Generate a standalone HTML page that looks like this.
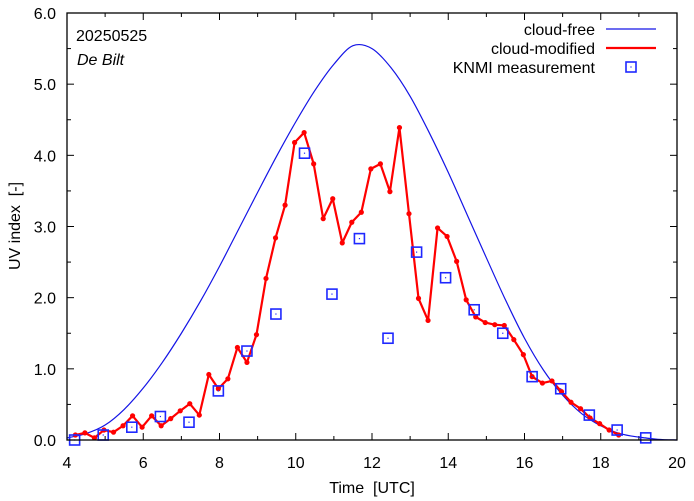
<!DOCTYPE html>
<html><head><meta charset="utf-8"><style>
body{margin:0;background:#fff}
svg{display:block;font-family:"Liberation Sans",sans-serif}
text{white-space:pre}
</style></head><body>
<svg id="chart" width="694" height="501" xmlns="http://www.w3.org/2000/svg"></svg>
<script>
const redT=[4.22,4.47,4.72,4.97,5.22,5.47,5.72,5.97,6.22,6.47,6.72,6.97,7.22,7.47,7.72,7.97,8.22,8.47,8.72,8.97,9.22,9.47,9.72,9.97,10.22,10.47,10.72,10.97,11.22,11.47,11.72,11.97,12.22,12.47,12.72,12.97,13.22,13.47,13.72,13.97,14.22,14.47,14.72,14.97,15.22,15.47,15.72,15.97,16.2,16.47,16.72,16.97,17.22,17.47,17.72,17.97,18.22,18.47];
const redV=[0.07,0.10,0.03,0.14,0.11,0.2,0.34,0.18,0.34,0.2,0.3,0.41,0.51,0.35,0.92,0.72,0.86,1.3,1.09,1.48,2.27,2.84,3.3,4.18,4.32,3.88,3.11,3.39,2.77,3.06,3.2,3.81,3.88,3.49,4.39,3.18,1.99,1.68,2.98,2.86,2.51,1.97,1.73,1.65,1.62,1.61,1.41,1.2,0.89,0.80,0.83,0.68,0.53,0.44,0.31,0.23,0.14,0.07];
const measT=[4.2,4.95,5.7,6.45,7.2,7.97,8.72,9.48,10.23,10.95,11.67,12.42,13.17,13.93,14.68,15.43,16.2,16.95,17.7,18.43,19.18];
const measV=[0.0,0.07,0.18,0.33,0.25,0.69,1.25,1.77,4.03,2.05,2.83,1.43,2.64,2.28,1.83,1.50,0.89,0.72,0.35,0.14,0.03];
const clearT=[4,4.5,5,5.5,6,6.5,7,7.5,8,8.5,9,9.5,10,10.5,11,11.5,12,12.5,13,13.5,14,14.5,15,15.5,16,16.5,17,17.5,18,18.5,19,19.5,20];
const clearV=[0.03,0.09,0.21,0.43,0.73,1.09,1.5,1.95,2.44,2.96,3.48,3.99,4.47,4.91,5.28,5.54,5.5,5.23,4.83,4.32,3.76,3.16,2.56,1.97,1.43,0.98,0.63,0.37,0.2,0.09,0.04,0.01,0.0];
const xTicks=[4,6,8,10,12,14,16,18,20];
const yTicks=[0,1,2,3,4,5,6];
const yLabels=["0.0","1.0","2.0","3.0","4.0","5.0","6.0"];

const L=67,R=677,T=13,B=440;
const X=t=>L+(t-4)/16*(R-L);
const Y=v=>B-v/6*(B-T);
const NS="http://www.w3.org/2000/svg";
const svg=document.getElementById('chart');
function mk(tag,attrs,parent){const e=document.createElementNS(NS,tag);for(const k in attrs)e.setAttribute(k,attrs[k]);(parent||svg).appendChild(e);return e;}

const axes=mk('g',{});


for(let t=4;t<=20;t+=1){const len=(t%2===0)?7:4;
 mk('line',{x1:X(t),x2:X(t),y1:B,y2:B-len,stroke:'#000','stroke-width':1},axes);
 mk('line',{x1:X(t),x2:X(t),y1:T,y2:T+len,stroke:'#000','stroke-width':1},axes);}
for(let v=0;v<=6.001;v+=0.5){const len=(Math.abs(v-Math.round(v))<0.01)?7:4;
 mk('line',{x1:L,x2:L+len,y1:Y(v),y2:Y(v),stroke:'#000','stroke-width':1},axes);
 mk('line',{x1:R,x2:R-len,y1:Y(v),y2:Y(v),stroke:'#000','stroke-width':1},axes);}
xTicks.forEach(t=>{const e=mk('text',{x:X(t),y:468,'text-anchor':'middle','font-size':16},axes);e.textContent=t;
 
 });
yTicks.forEach((v,i)=>{const e=mk('text',{x:56,y:Y(v)+6,'text-anchor':'end','font-size':16},axes);e.textContent=yLabels[i];
 
 });

const cp=clearT.map((t,i)=>[X(t),Y(clearV[i])]);
let d='M'+cp[0][0]+','+cp[0][1];
for(let i=0;i<cp.length-1;i++){const p0=cp[Math.max(0,i-1)],p1=cp[i],p2=cp[i+1],p3=cp[Math.min(cp.length-1,i+2)];
 d+=` C${p1[0]+(p2[0]-p0[0])/6},${p1[1]+(p2[1]-p0[1])/6} ${p2[0]-(p3[0]-p1[0])/6},${p2[1]-(p3[1]-p1[1])/6} ${p2[0]},${p2[1]}`;}
const cf=mk('path',{d:d,fill:'none',stroke:'#1414e6','stroke-width':1.2});



const rl=mk('polyline',{points:redT.map((t,i)=>X(t)+','+Y(redV[i])).join(' '),fill:'none',stroke:'#f00','stroke-width':2.2,'stroke-linejoin':'round'});


redT.forEach((t,i)=>{const c=mk('circle',{cx:X(t),cy:Y(redV[i]),r:2.6,fill:'#f00'});
 
 });

measT.forEach((t,i)=>{const g=mk('g',{});
 
 
 mk('rect',{x:X(t)-5,y:Y(measV[i])-5,width:10,height:10,fill:'none',stroke:'#1e28ff','stroke-width':1.6},g);
 mk('rect',{x:X(t)-0.6,y:Y(measV[i])-0.6,width:1.2,height:1.2,fill:'#1e28ff'},g);});

const fr=mk('rect',{x:L,y:T,width:R-L,height:B-T,fill:'none',stroke:'#000','stroke-width':1.3});



let e=mk('text',{x:76,y:41,'font-size':16});e.textContent='20250525';


e=mk('text',{x:77,y:65,'font-size':16,'font-style':'italic'});e.textContent='De Bilt';


e=mk('text',{x:372,y:493,'text-anchor':'middle','font-size':16});e.textContent='Time  [UTC]';


e=mk('text',{x:20,y:226,'text-anchor':'middle','font-size':16,transform:'rotate(-90 20 226)'});e.textContent='UV index  [-]';



const lg=mk('g',{});


[['cloud-free',30],['cloud-modified',49],['KNMI measurement',68]].forEach(([s,y])=>{const t=mk('text',{x:595,y:y+5,'text-anchor':'end','font-size':16},lg);t.textContent=s;});
mk('line',{x1:606,x2:656,y1:29,y2:29,stroke:'#1414e6','stroke-width':1.2},lg);
mk('line',{x1:606,x2:656,y1:48,y2:48,stroke:'#f00','stroke-width':2.2},lg);
mk('rect',{x:626,y:62,width:10,height:10,fill:'none',stroke:'#1e28ff','stroke-width':1.6},lg);
mk('rect',{x:630.4,y:66.4,width:1.2,height:1.2,fill:'#1e28ff'},lg);
</script>
</body></html>
